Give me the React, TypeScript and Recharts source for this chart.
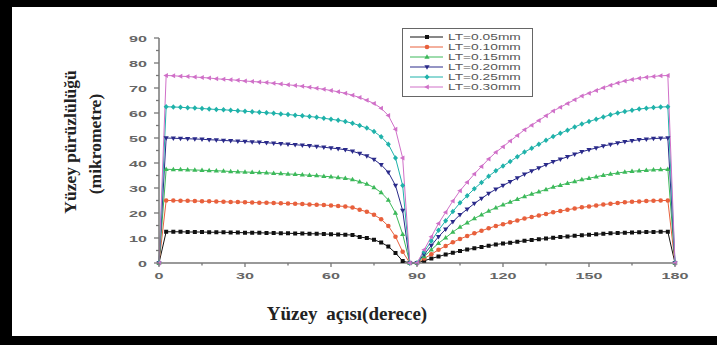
import { Legend, Line, LineChart, XAxis, YAxis } from "recharts"

// surface angle, degrees
const angles = [
  0, 2.5, 5, 7.5, 10, 12.5, 15, 17.5, 20, 22.5, 25, 27.5, 30, 32.5, 35, 37.5, 40, 42.5, 45, 47.5,
  50, 52.5, 55, 57.5, 60, 62.5, 65, 67.5, 70, 72.5, 75, 77.5, 80, 82.5, 85, 87.5,
  90, 92.5, 95, 97.5, 100, 102.5, 105, 107.5, 110, 112.5, 115, 117.5, 120, 122.5, 125, 127.5,
  130, 132.5, 135, 137.5, 140, 142.5, 145, 147.5, 150, 152.5, 155, 157.5, 160, 162.5, 165,
  167.5, 170, 172.5, 175, 177.5, 180,
]

const lt005 = [
  0, 12.5, 12.5, 12.5, 12.4, 12.4, 12.4, 12.3, 12.3, 12.3, 12.2, 12.2, 12.1, 12.1, 12.1, 12.0, 12.0, 11.9,
  11.9, 11.8, 11.8, 11.7, 11.7, 11.6, 11.5, 11.4, 11.3, 11.2, 10.4, 10.0, 9.3, 8.2, 6.6, 4.0, 0.8, 0,
  0, 0.9, 1.8, 2.6, 3.4, 4.1, 4.8, 5.4, 5.9, 6.4, 6.9, 7.4, 7.8, 8.1, 8.5, 8.9, 9.2, 9.5, 9.8, 10.1,
  10.4, 10.6, 10.9, 11.1, 11.3, 11.5, 11.7, 11.9, 12.0, 12.1, 12.2, 12.3, 12.4, 12.4, 12.5, 12.5, 0,
]
const lt010 = [
  0, 25.0, 25.0, 24.9, 24.9, 24.8, 24.7, 24.7, 24.6, 24.5, 24.4, 24.4, 24.3, 24.2, 24.1, 24.1, 24.0, 23.9,
  23.8, 23.7, 23.6, 23.4, 23.3, 23.2, 23.0, 22.8, 22.6, 22.2, 21.3, 20.5, 19.3, 17.5, 14.8, 10.5, 4.5, 0,
  0, 1.8, 3.5, 5.3, 6.8, 8.3, 9.6, 10.8, 11.9, 12.9, 13.9, 14.8, 15.5, 16.3, 17.0, 17.8, 18.4, 19.0,
  19.6, 20.3, 20.8, 21.3, 21.8, 22.3, 22.6, 23.0, 23.4, 23.7, 24.0, 24.3, 24.5, 24.6, 24.8, 24.9, 25.0, 25.0, 0,
]
const lt015 = [
  0, 37.5, 37.4, 37.4, 37.3, 37.2, 37.1, 37.0, 36.9, 36.8, 36.6, 36.5, 36.4, 36.3, 36.2, 36.1, 35.9, 35.8,
  35.6, 35.5, 35.3, 35.1, 35.0, 34.7, 34.5, 34.2, 33.9, 33.4, 32.5, 31.6, 30.2, 28.2, 25.2, 20.0, 11.5, 0,
  0, 2.6, 5.3, 7.9, 10.1, 12.4, 14.4, 16.1, 17.8, 19.3, 20.8, 22.1, 23.3, 24.4, 25.5, 26.6, 27.6, 28.5,
  29.4, 30.4, 31.1, 31.9, 32.6, 33.4, 33.9, 34.5, 35.1, 35.6, 36.0, 36.4, 36.7, 36.9, 37.1, 37.3, 37.4, 37.5, 0,
]
const lt020 = [
  0, 50.0, 49.9, 49.8, 49.7, 49.6, 49.5, 49.3, 49.2, 49.0, 48.9, 48.7, 48.6, 48.4, 48.3, 48.1, 47.9, 47.7,
  47.5, 47.3, 47.1, 46.9, 46.6, 46.3, 46.0, 45.7, 45.3, 44.7, 43.8, 42.8, 41.4, 39.3, 36.3, 31.0, 21.0, 0,
  0, 3.5, 7.0, 10.5, 13.5, 16.5, 19.3, 21.5, 23.8, 25.8, 27.8, 29.5, 31.0, 32.5, 34.0, 35.5, 36.8, 38.0,
  39.3, 40.5, 41.5, 42.5, 43.5, 44.5, 45.3, 46.0, 46.8, 47.4, 48.0, 48.5, 48.9, 49.3, 49.5, 49.8, 49.9, 50.0, 0,
]
const lt025 = [
  0, 62.5, 62.4, 62.3, 62.1, 62.0, 61.8, 61.6, 61.4, 61.3, 61.1, 60.9, 60.7, 60.5, 60.3, 60.1, 59.9, 59.6,
  59.4, 59.1, 58.9, 58.6, 58.3, 57.9, 57.5, 57.1, 56.6, 55.9, 55.0, 54.0, 52.6, 50.5, 47.5, 42.0, 31.0, 0,
  0, 4.4, 8.8, 13.1, 16.9, 20.6, 24.1, 26.9, 29.7, 32.2, 34.7, 36.9, 38.8, 40.6, 42.5, 44.4, 45.9, 47.5,
  49.1, 50.6, 51.9, 53.1, 54.4, 55.6, 56.6, 57.5, 58.4, 59.3, 60.0, 60.6, 61.1, 61.6, 61.9, 62.2, 62.4, 62.5, 0,
]
const lt030 = [
  0, 75.0, 74.9, 74.7, 74.6, 74.4, 74.2, 74.0, 73.7, 73.5, 73.3, 73.1, 72.8, 72.6, 72.4, 72.2, 71.9, 71.6,
  71.3, 71.0, 70.7, 70.3, 69.9, 69.5, 69.0, 68.5, 67.9, 67.1, 66.2, 65.1, 63.8, 61.9, 59.0, 53.5, 42.0, 0,
  0, 5.3, 10.5, 15.8, 20.3, 24.8, 28.9, 32.3, 35.6, 38.6, 41.6, 44.3, 46.5, 48.8, 51.0, 53.3, 55.1, 57.0,
  58.9, 60.8, 62.3, 63.8, 65.3, 66.8, 67.9, 69.0, 70.1, 71.1, 72.0, 72.8, 73.4, 73.9, 74.3, 74.6, 74.9, 75.0, 0,
]

const xTicks = [0, 15, 30, 45, 60, 75, 90, 105, 120, 135, 150, 165, 180]
const yTicks = [0, 5, 10, 15, 20, 25, 30, 35, 40, 45, 50, 55, 60, 65, 70, 75, 80, 85, 90]

const series = [
  { key: "lt005", name: "LT=0.05mm", values: lt005, color: "#111111", shape: "square" },
  { key: "lt010", name: "LT=0.10mm", values: lt010, color: "#e8603c", shape: "circle" },
  { key: "lt015", name: "LT=0.15mm", values: lt015, color: "#3cb95a", shape: "up" },
  { key: "lt020", name: "LT=0.20mm", values: lt020, color: "#2a2a8a", shape: "down" },
  { key: "lt025", name: "LT=0.25mm", values: lt025, color: "#1fb2aa", shape: "diamond" },
  { key: "lt030", name: "LT=0.30mm", values: lt030, color: "#d070c8", shape: "left" },
]

const data = angles.map((a, i) => {
  const row: Record<string, number> = { angle: a }
  series.forEach((s) => (row[s.key] = s.values[i]))
  return row
})

function Marker({ cx, cy, shape, color }: { cx: number; cy: number; shape: string; color: string }) {
  if (cx == null || cy == null) return null
  switch (shape) {
    case "square":
      return <rect x={cx - 2} y={cy - 2} width={4} height={4} fill={color} />
    case "circle":
      return <circle cx={cx} cy={cy} r={2.3} fill={color} />
    case "up":
      return <polygon points={`${cx},${cy - 2.8} ${cx + 2.6},${cy + 1.8} ${cx - 2.6},${cy + 1.8}`} fill={color} />
    case "down":
      return <polygon points={`${cx},${cy + 2.8} ${cx + 2.6},${cy - 1.8} ${cx - 2.6},${cy - 1.8}`} fill={color} />
    case "diamond":
      return <polygon points={`${cx},${cy - 2.8} ${cx + 2.5},${cy} ${cx},${cy + 2.8} ${cx - 2.5},${cy}`} fill={color} />
    default:
      return <polygon points={`${cx - 2.8},${cy} ${cx + 1.8},${cy - 2.6} ${cx + 1.8},${cy + 2.6}`} fill={color} />
  }
}

const tickFont = { fontFamily: "Arial, 'Liberation Sans', sans-serif", fontSize: 9.5, fill: "#666", fontWeight: 600 }

function XTick(props: any) {
  const { x, y, payload } = props
  const major = payload.value % 30 === 0
  return (
    <g>
      <line x1={x} x2={x} y1={y} y2={y + (major ? 4 : 2.5)} stroke="#777" strokeWidth={1.3} />
      {major && (
        <text transform={`translate(${x},${y + 16}) scale(1.7,1)`} textAnchor="middle" style={tickFont}>
          {payload.value}
        </text>
      )}
    </g>
  )
}

function YTick(props: any) {
  const { x, y, payload } = props
  const major = payload.value % 10 === 0
  return (
    <g>
      <line x1={x} x2={x - (major ? 5 : 3)} y1={y} y2={y} stroke="#777" strokeWidth={1.3} />
      {major && (
        <text transform={`translate(${x - 12},${y + 3.5}) scale(1.7,1)`} textAnchor="end" style={tickFont}>
          {payload.value}
        </text>
      )}
    </g>
  )
}

const titleFont = { fontFamily: "'Liberation Serif', 'Times New Roman', serif", fontWeight: 700, fontSize: 17.5, fill: "#222" }

function LegendBox() {
  return (
    <div style={{ width: 131, height: 69, border: "1.5px solid #666", background: "#fff", boxSizing: "border-box" }}>
      <svg width={128} height={66}>
        {series.map((s, i) => {
          const y = 8 + i * 10
          return (
            <g key={s.key}>
              <line x1={7} x2={40} y1={y} y2={y} stroke={s.color} strokeWidth={1} />
              <Marker cx={24} cy={y} shape={s.shape} color={s.color} />
              <text
                transform={`translate(45,${y + 3.3}) scale(1.45,1)`}
                style={{ fontFamily: "Arial, 'Liberation Sans', sans-serif", fontSize: 9.5, fill: "#555" }}
              >
                {s.name}
              </text>
            </g>
          )
        })}
      </svg>
    </div>
  )
}

export default function App() {
  return (
    <>
      <style>{`html, body { margin: 0; padding: 0; overflow: hidden; background: #fff; }`}</style>
      <div
        style={{
          position: "fixed",
          left: 0,
          top: 0,
          width: 717,
          height: 345,
          boxSizing: "border-box",
          borderStyle: "solid",
          borderColor: "#000",
          borderWidth: "7px 0 9px 12px",
          background: "#fff",
        }}
      >
        <div style={{ position: "absolute", left: -12, top: -7 }}>
          <LineChart width={717} height={345} data={data} margin={{ top: 38, right: 42, bottom: 52, left: 99 }}>
            <XAxis
              dataKey="angle"
              type="number"
              domain={[0, 180]}
              ticks={xTicks}
              interval={0}
              height={30}
              tickSize={0}
              tickMargin={0}
              tickLine={false}
              tick={<XTick />}
              axisLine={{ stroke: "#777", strokeWidth: 1.5 }}
              label={() => (
                <text x={347} y={320} textAnchor="middle" style={{ ...titleFont, fontSize: 19, wordSpacing: 4 }}>
                  Yüzey açısı(derece)
                </text>
              )}
            />
            <YAxis
              type="number"
              domain={[0, 90]}
              ticks={yTicks}
              interval={0}
              width={60}
              tickSize={0}
              tickMargin={0}
              tickLine={false}
              tick={<YTick />}
              axisLine={{ stroke: "#777", strokeWidth: 1.5 }}
              label={() => (
                <g>
                  <text transform="translate(76,142) rotate(-90)" textAnchor="middle" style={titleFont}>
                    Yüzey pürüzlülüğü
                  </text>
                  <text transform="translate(101,144) rotate(-90)" textAnchor="middle" style={titleFont}>
                    (mikrometre)
                  </text>
                </g>
              )}
            />
            <Legend
              layout="vertical"
              align="center"
              verticalAlign="middle"
              content={() => <LegendBox />}
              wrapperStyle={{ left: 402, top: 28, width: 131, height: 69 }}
            />
            {series.map((s) => (
              <Line
                key={s.key}
                dataKey={s.key}
                name={s.name}
                type="linear"
                stroke={s.color}
                strokeWidth={1}
                isAnimationActive={false}
                dot={(p: any) => <Marker key={`${s.key}-${p.index}`} cx={p.cx} cy={p.cy} shape={s.shape} color={s.color} />}
                activeDot={false}
              />
            ))}
          </LineChart>
        </div>
      </div>
    </>
  )
}
